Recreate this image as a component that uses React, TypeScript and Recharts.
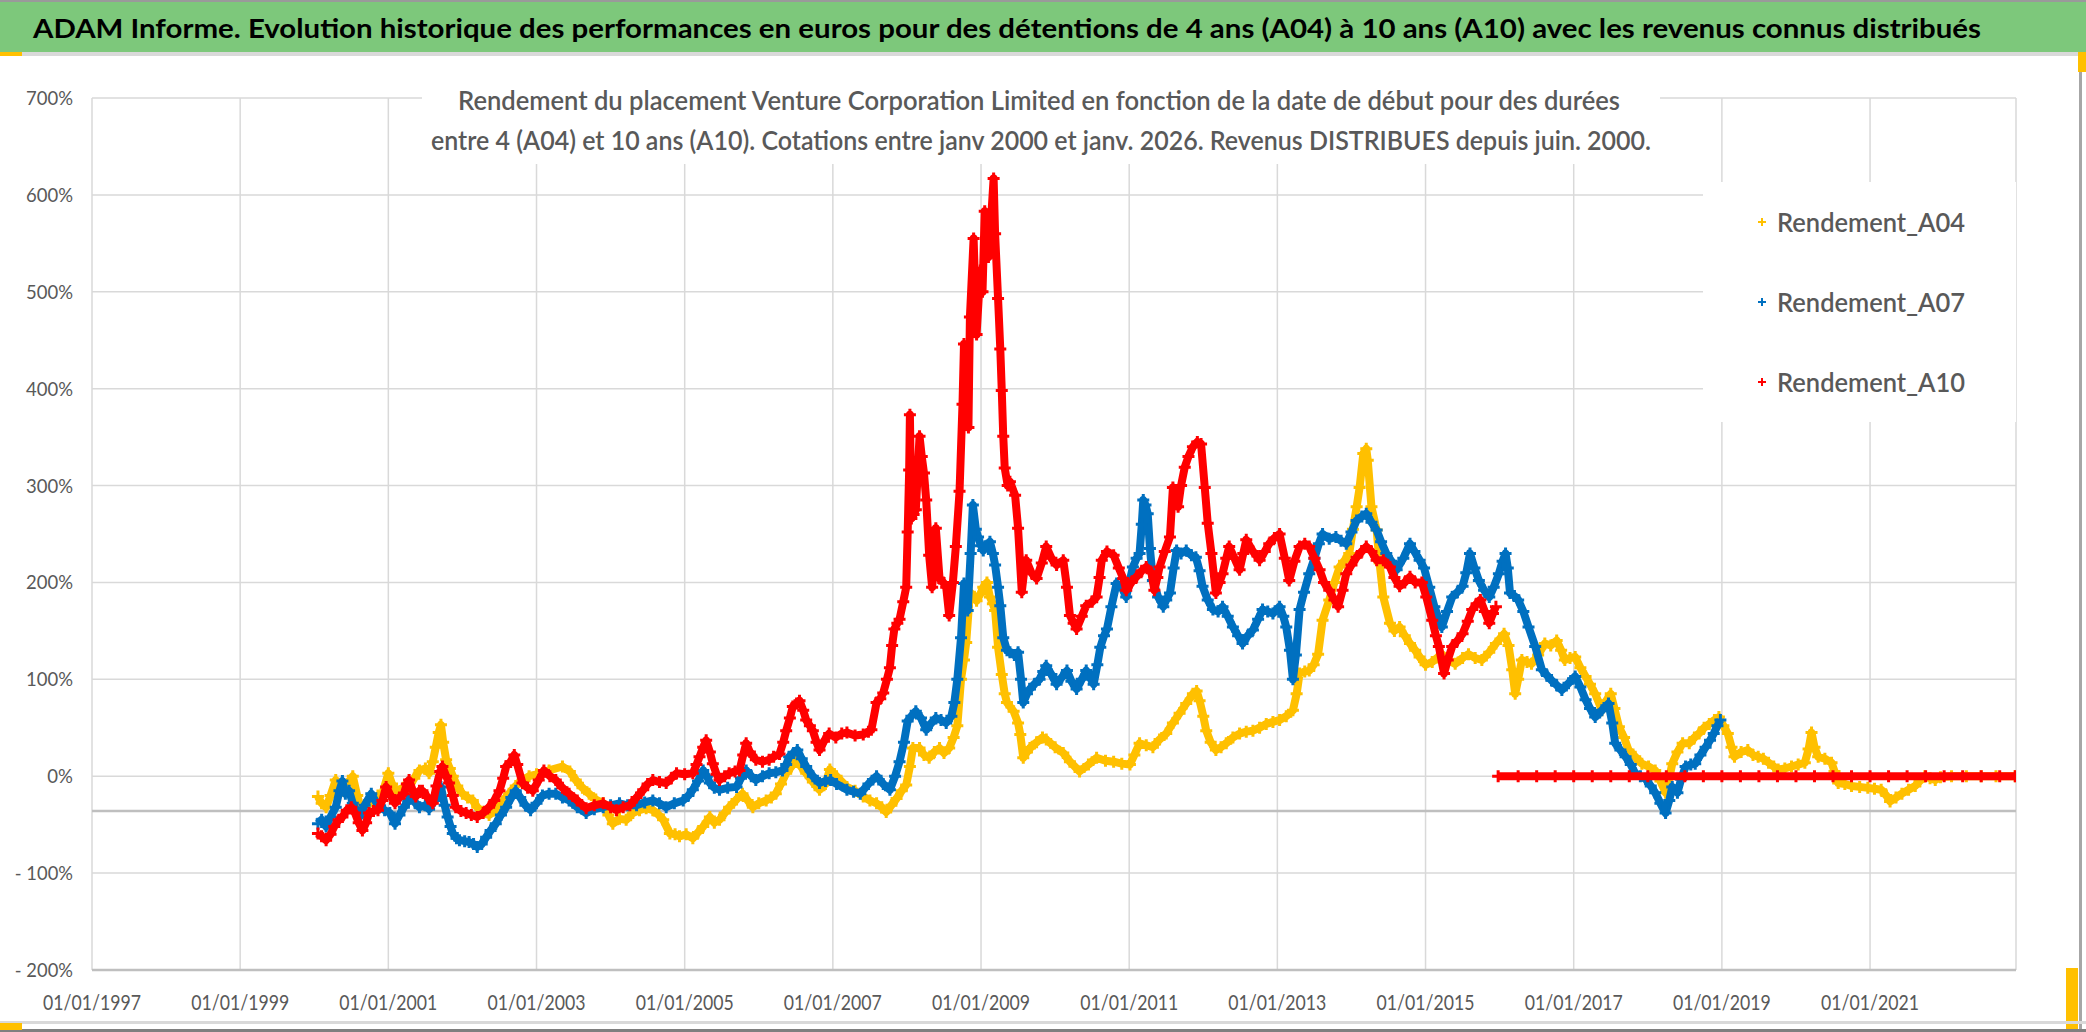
import React from "react";
import {
  CartesianGrid,
  ReferenceLine,
  Scatter,
  ScatterChart,
  XAxis,
  YAxis,
} from "recharts";

// Axis ticks (decimal years on x, percent on y)
const xTicks = [1997, 1999, 2001, 2003, 2005, 2007, 2009, 2011, 2013, 2015, 2017, 2019, 2021];
const yTicks = [-200, -100, 0, 100, 200, 300, 400, 500, 600, 700];
const xDomain: [number, number] = [1997, 2022.97];

const seriesNames = ["Rendement_A04", "Rendement_A07", "Rendement_A10"];
const seriesColors = ["#FFC000", "#0070C0", "#FF0000"];

// [year, rendement %]
const rendementA04: [number, number][] = [
  [2000.05, -21], [2000.1, -28], [2000.16, -32], [2000.22, -20], [2000.29, -4], [2000.33, -12],
  [2000.38, -15], [2000.45, -8], [2000.52, 0], [2000.58, -20], [2000.65, -38], [2000.72, -30],
  [2000.79, -25], [2000.86, -20], [2000.92, -18], [2001.0, 3], [2001.05, -8], [2001.1, -15],
  [2001.2, -12], [2001.28, -11], [2001.35, -2], [2001.42, 6], [2001.5, 8], [2001.55, 3],
  [2001.6, 15], [2001.64, 30], [2001.68, 45], [2001.71, 53], [2001.74, 35], [2001.78, 17],
  [2001.83, 8], [2001.87, 0], [2001.93, -10], [2002.0, -18], [2002.07, -22], [2002.14, -25],
  [2002.2, -32], [2002.27, -38], [2002.36, -40], [2002.45, -35], [2002.54, -26], [2002.63, -18],
  [2002.72, -10], [2002.81, -4], [2002.9, 0], [2003.0, 2], [2003.17, 6], [2003.35, 10],
  [2003.45, 5], [2003.53, -4], [2003.62, -12], [2003.71, -18], [2003.8, -24], [2003.9, -28],
  [2003.97, -40], [2004.03, -49], [2004.12, -44], [2004.21, -45], [2004.3, -38], [2004.39, -35],
  [2004.48, -33], [2004.57, -35], [2004.65, -40], [2004.71, -45], [2004.8, -59], [2004.87, -60],
  [2004.93, -62], [2005.02, -60], [2005.11, -64], [2005.18, -58], [2005.25, -52], [2005.34, -42],
  [2005.4, -48], [2005.47, -45], [2005.54, -38], [2005.6, -32], [2005.7, -24], [2005.78, -18],
  [2005.85, -25], [2005.92, -32], [2006.0, -28], [2006.1, -25], [2006.17, -22], [2006.23, -18],
  [2006.3, -8], [2006.37, 3], [2006.44, 10], [2006.5, 17], [2006.57, 10], [2006.64, 3],
  [2006.73, -6], [2006.82, -14], [2006.9, -8], [2006.96, 7], [2007.05, 0], [2007.19, -11],
  [2007.3, -15], [2007.41, -21], [2007.5, -25], [2007.59, -28], [2007.66, -32], [2007.72, -37],
  [2007.79, -30], [2007.86, -23], [2007.93, -15], [2007.99, -9], [2008.04, 10], [2008.08, 29],
  [2008.17, 29], [2008.23, 22], [2008.3, 19], [2008.37, 25], [2008.44, 29], [2008.5, 24],
  [2008.57, 29], [2008.63, 40], [2008.68, 52], [2008.73, 100], [2008.77, 120], [2008.8, 138],
  [2008.85, 190], [2008.9, 185], [2008.94, 181], [2008.99, 188], [2009.03, 195], [2009.08, 200],
  [2009.12, 185], [2009.16, 178], [2009.19, 171], [2009.23, 133], [2009.28, 105], [2009.32, 85],
  [2009.35, 76], [2009.44, 67], [2009.5, 55], [2009.53, 43], [2009.57, 19], [2009.62, 25],
  [2009.66, 29], [2009.75, 35], [2009.83, 40], [2009.88, 38], [2010.0, 30], [2010.11, 24],
  [2010.2, 15], [2010.33, 5], [2010.45, 12], [2010.56, 19], [2010.68, 16], [2010.79, 15],
  [2010.9, 13], [2011.01, 12], [2011.07, 22], [2011.14, 34], [2011.23, 32], [2011.32, 30],
  [2011.41, 38], [2011.5, 44], [2011.59, 55], [2011.68, 65], [2011.77, 75], [2011.86, 85],
  [2011.91, 88], [2011.95, 78], [2012.0, 62], [2012.04, 47], [2012.1, 35], [2012.17, 27],
  [2012.24, 30], [2012.31, 34], [2012.4, 40], [2012.49, 44], [2012.58, 46], [2012.67, 47],
  [2012.76, 50], [2012.85, 54], [2012.94, 56], [2013.03, 58], [2013.12, 62], [2013.21, 68],
  [2013.26, 85], [2013.3, 106], [2013.37, 108], [2013.43, 109], [2013.49, 115], [2013.55, 126],
  [2013.61, 161], [2013.7, 182], [2013.77, 200], [2013.84, 216], [2013.9, 222], [2013.97, 230],
  [2014.02, 255], [2014.07, 278], [2014.11, 298], [2014.16, 333], [2014.2, 338], [2014.22, 326],
  [2014.27, 278], [2014.34, 254], [2014.38, 220], [2014.43, 185], [2014.52, 158], [2014.58, 150],
  [2014.65, 154], [2014.72, 145], [2014.79, 137], [2014.86, 130], [2014.92, 123], [2015.0, 115],
  [2015.09, 118], [2015.22, 126], [2015.3, 120], [2015.4, 116], [2015.5, 122], [2015.58, 126],
  [2015.67, 122], [2015.76, 120], [2015.86, 128], [2015.95, 137], [2016.06, 147], [2016.12, 135],
  [2016.17, 110], [2016.21, 85], [2016.25, 100], [2016.3, 120], [2016.37, 118], [2016.43, 116],
  [2016.52, 125], [2016.61, 137], [2016.69, 135], [2016.77, 140], [2016.83, 130], [2016.88, 120],
  [2016.95, 122], [2017.02, 123], [2017.09, 112], [2017.16, 103], [2017.22, 95], [2017.29, 85],
  [2017.38, 68], [2017.44, 78], [2017.5, 85], [2017.55, 70], [2017.61, 51], [2017.68, 40],
  [2017.74, 27], [2017.83, 20], [2017.92, 13], [2018.01, 10], [2018.1, 6], [2018.17, -5],
  [2018.24, -17], [2018.29, -2], [2018.33, 13], [2018.4, 25], [2018.47, 34], [2018.56, 34],
  [2018.63, 40], [2018.69, 44], [2018.76, 50], [2018.83, 54], [2018.9, 58], [2018.96, 61],
  [2019.02, 52], [2019.08, 44], [2019.13, 30], [2019.17, 20], [2019.26, 25], [2019.35, 27],
  [2019.42, 22], [2019.49, 20], [2019.56, 18], [2019.63, 14], [2019.7, 10], [2019.76, 7],
  [2019.85, 8], [2019.94, 10], [2020.03, 12], [2020.12, 14], [2020.17, 28], [2020.21, 45],
  [2020.25, 30], [2020.3, 20], [2020.39, 18], [2020.48, 14], [2020.52, 5], [2020.57, -7],
  [2020.66, -8], [2020.75, -10], [2020.86, -11], [2020.97, -12], [2021.06, -13], [2021.15, -14],
  [2021.22, -20], [2021.27, -26], [2021.35, -22], [2021.43, -18], [2021.52, -14], [2021.61, -10],
  [2021.67, -5], [2021.74, 0], [2021.81, -2], [2021.88, -4], [2021.95, -1], [2022.1, 0],
  [2022.3, 0], [2022.5, 0], [2022.7, 0], [2022.96, 0],
];

const rendementA07: [number, number][] = [
  [2000.05, -49], [2000.1, -45], [2000.16, -52], [2000.22, -42], [2000.29, -32], [2000.34, -15],
  [2000.38, -5], [2000.42, -18], [2000.47, -15], [2000.52, -28], [2000.61, -42], [2000.68, -30],
  [2000.77, -18], [2000.82, -25], [2000.88, -32], [2000.95, -35], [2001.02, -38], [2001.09, -49],
  [2001.15, -40], [2001.21, -32], [2001.27, -25], [2001.32, -21], [2001.37, -28], [2001.42, -32],
  [2001.5, -30], [2001.55, -34], [2001.62, -25], [2001.67, -18], [2001.71, -11], [2001.76, -30],
  [2001.8, -42], [2001.84, -52], [2001.87, -59], [2001.92, -64], [2001.96, -66], [2002.03, -67],
  [2002.09, -68], [2002.15, -70], [2002.2, -73], [2002.26, -70], [2002.32, -63], [2002.38, -56],
  [2002.45, -49], [2002.52, -40], [2002.59, -32], [2002.66, -22], [2002.72, -15], [2002.78, -22],
  [2002.85, -30], [2002.92, -35], [2003.0, -28], [2003.08, -20], [2003.17, -18], [2003.26, -18],
  [2003.35, -22], [2003.44, -25], [2003.55, -32], [2003.67, -38], [2003.78, -34], [2003.9, -32],
  [2004.0, -30], [2004.12, -28], [2004.23, -30], [2004.35, -30], [2004.46, -27], [2004.57, -25],
  [2004.66, -28], [2004.75, -32], [2004.86, -28], [2004.98, -25], [2005.05, -20], [2005.11, -14],
  [2005.18, -5], [2005.25, 6], [2005.3, 0], [2005.34, -7], [2005.4, -12], [2005.47, -14],
  [2005.58, -12], [2005.7, -11], [2005.76, -2], [2005.83, 6], [2005.9, 0], [2005.96, -4],
  [2006.05, 0], [2006.14, 3], [2006.23, 4], [2006.32, 6], [2006.37, 12], [2006.41, 20],
  [2006.47, 24], [2006.52, 27], [2006.58, 18], [2006.64, 10], [2006.73, 0], [2006.82, -7],
  [2006.9, -5], [2006.97, -4], [2007.05, -8], [2007.19, -14], [2007.28, -16], [2007.37, -18],
  [2007.48, -8], [2007.59, 0], [2007.68, -8], [2007.77, -14], [2007.84, 0], [2007.9, 15],
  [2007.96, 35], [2008.01, 57], [2008.06, 62], [2008.12, 67], [2008.19, 60], [2008.26, 48],
  [2008.33, 55], [2008.39, 60], [2008.46, 58], [2008.53, 55], [2008.6, 62], [2008.64, 76],
  [2008.68, 100], [2008.73, 143], [2008.77, 199], [2008.8, 175], [2008.82, 171], [2008.86, 230],
  [2008.89, 280], [2008.93, 255], [2008.96, 247], [2009.0, 238], [2009.03, 233], [2009.08, 238],
  [2009.12, 242], [2009.16, 230], [2009.19, 218], [2009.23, 195], [2009.26, 176], [2009.3, 143],
  [2009.35, 130], [2009.39, 128], [2009.45, 125], [2009.5, 128], [2009.54, 100], [2009.57, 76],
  [2009.62, 85], [2009.66, 90], [2009.72, 95], [2009.79, 100], [2009.84, 108], [2009.88, 114],
  [2009.95, 105], [2010.02, 95], [2010.09, 102], [2010.16, 109], [2010.22, 98], [2010.29, 90],
  [2010.36, 100], [2010.42, 109], [2010.47, 102], [2010.52, 95], [2010.57, 115], [2010.61, 133],
  [2010.66, 145], [2010.7, 152], [2010.76, 175], [2010.83, 199], [2010.9, 195], [2010.96, 185],
  [2011.05, 216], [2011.1, 225], [2011.14, 230], [2011.17, 260], [2011.19, 285], [2011.22, 280],
  [2011.25, 271], [2011.28, 235], [2011.32, 202], [2011.39, 185], [2011.46, 175], [2011.5, 182],
  [2011.55, 189], [2011.6, 215], [2011.64, 233], [2011.7, 230], [2011.77, 233], [2011.84, 228],
  [2011.9, 226], [2011.95, 212], [2011.99, 196], [2012.06, 182], [2012.13, 172], [2012.2, 170],
  [2012.26, 175], [2012.33, 165], [2012.4, 154], [2012.47, 145], [2012.53, 137], [2012.6, 145],
  [2012.67, 151], [2012.74, 162], [2012.8, 172], [2012.87, 170], [2012.94, 168], [2013.03, 175],
  [2013.08, 165], [2013.12, 154], [2013.17, 130], [2013.21, 100], [2013.25, 125], [2013.3, 172],
  [2013.36, 190], [2013.43, 209], [2013.5, 225], [2013.56, 240], [2013.61, 250], [2013.7, 245],
  [2013.79, 247], [2013.86, 243], [2013.93, 240], [2014.0, 252], [2014.07, 264], [2014.14, 268],
  [2014.2, 271], [2014.27, 262], [2014.34, 254], [2014.4, 242], [2014.47, 230], [2014.54, 222],
  [2014.61, 213], [2014.7, 225], [2014.79, 240], [2014.85, 232], [2014.92, 223], [2014.98, 215],
  [2015.05, 195], [2015.12, 175], [2015.22, 154], [2015.29, 170], [2015.36, 185], [2015.43, 190],
  [2015.5, 196], [2015.55, 210], [2015.6, 230], [2015.66, 215], [2015.72, 202], [2015.79, 192],
  [2015.86, 185], [2015.92, 195], [2015.99, 209], [2016.04, 222], [2016.08, 230], [2016.11, 215],
  [2016.14, 189], [2016.2, 186], [2016.25, 182], [2016.32, 170], [2016.39, 154], [2016.48, 134],
  [2016.57, 110], [2016.64, 104], [2016.7, 99], [2016.77, 94], [2016.84, 89], [2016.93, 96],
  [2017.02, 103], [2017.09, 92], [2017.16, 79], [2017.22, 70], [2017.29, 61], [2017.38, 68],
  [2017.47, 75], [2017.52, 55], [2017.56, 34], [2017.63, 27], [2017.7, 20], [2017.77, 12],
  [2017.83, 3], [2017.9, 0], [2017.97, -3], [2018.04, -10], [2018.1, -17], [2018.17, -28],
  [2018.24, -38], [2018.29, -25], [2018.33, -11], [2018.4, -17], [2018.45, -3], [2018.51, 10],
  [2018.58, 12], [2018.64, 13], [2018.71, 22], [2018.78, 30], [2018.84, 37], [2018.89, 44],
  [2018.94, 52], [2018.98, 58],
];

const rendementA10: [number, number][] = [
  [2000.05, -59], [2000.1, -62], [2000.16, -66], [2000.22, -60], [2000.27, -52], [2000.33, -45],
  [2000.38, -42], [2000.44, -35], [2000.5, -32], [2000.55, -38], [2000.6, -48], [2000.65, -56],
  [2000.7, -48], [2000.74, -38], [2000.8, -36], [2000.86, -35], [2000.92, -25], [2000.97, -11],
  [2001.03, -20], [2001.09, -28], [2001.15, -22], [2001.21, -18], [2001.25, -8], [2001.28, -4],
  [2001.33, -15], [2001.37, -21], [2001.42, -15], [2001.46, -15], [2001.53, -22], [2001.6, -28],
  [2001.65, -10], [2001.7, 5], [2001.73, 10], [2001.78, 0], [2001.82, -7], [2001.87, -20],
  [2001.91, -32], [2001.98, -36], [2002.05, -38], [2002.12, -40], [2002.2, -42], [2002.28, -38],
  [2002.36, -32], [2002.43, -25], [2002.5, -15], [2002.55, -2], [2002.59, 10], [2002.65, 15],
  [2002.7, 22], [2002.74, 12], [2002.81, -7], [2002.88, -12], [2002.95, -15], [2003.03, -4],
  [2003.1, 6], [2003.18, 0], [2003.26, -4], [2003.35, -12], [2003.44, -18], [2003.55, -25],
  [2003.67, -33], [2003.78, -30], [2003.9, -28], [2004.0, -32], [2004.08, -35], [2004.17, -32],
  [2004.26, -30], [2004.35, -22], [2004.44, -14], [2004.5, -8], [2004.57, -4], [2004.66, -6],
  [2004.75, -7], [2004.82, -2], [2004.89, 3], [2005.0, 2], [2005.11, 3], [2005.16, 12],
  [2005.2, 20], [2005.25, 30], [2005.29, 37], [2005.34, 25], [2005.38, 13], [2005.43, 2],
  [2005.47, -4], [2005.54, 0], [2005.6, 3], [2005.68, 5], [2005.74, 6], [2005.79, 22],
  [2005.83, 34], [2005.88, 25], [2005.96, 17], [2006.05, 15], [2006.14, 17], [2006.2, 20],
  [2006.28, 23], [2006.33, 35], [2006.37, 47], [2006.42, 60], [2006.46, 72], [2006.51, 75],
  [2006.55, 78], [2006.6, 68], [2006.64, 58], [2006.69, 52], [2006.73, 47], [2006.78, 35],
  [2006.82, 27], [2006.88, 36], [2006.95, 44], [2007.04, 40], [2007.12, 44], [2007.19, 45],
  [2007.3, 42], [2007.41, 43], [2007.48, 46], [2007.52, 48], [2007.59, 76], [2007.64, 80],
  [2007.68, 86], [2007.73, 100], [2007.77, 112], [2007.8, 135], [2007.83, 152], [2007.87, 158],
  [2007.9, 162], [2007.95, 180], [2007.99, 195], [2008.01, 252], [2008.03, 316], [2008.04, 373],
  [2008.06, 266], [2008.09, 270], [2008.12, 275], [2008.17, 351], [2008.2, 330], [2008.23, 313],
  [2008.26, 285], [2008.3, 228], [2008.34, 195], [2008.37, 225], [2008.39, 256], [2008.44, 204],
  [2008.49, 200], [2008.53, 195], [2008.57, 166], [2008.62, 200], [2008.66, 237], [2008.71, 294],
  [2008.75, 384], [2008.77, 446], [2008.8, 400], [2008.83, 360], [2008.85, 474], [2008.9, 555],
  [2008.94, 456], [2008.99, 522], [2009.02, 500], [2009.05, 583], [2009.1, 536], [2009.14, 580],
  [2009.17, 617], [2009.19, 560], [2009.23, 493], [2009.26, 441], [2009.28, 398], [2009.3, 351],
  [2009.32, 318], [2009.36, 300], [2009.39, 304], [2009.46, 290], [2009.5, 256], [2009.55, 190],
  [2009.58, 210], [2009.61, 223], [2009.68, 210], [2009.75, 204], [2009.82, 220], [2009.88, 237],
  [2009.95, 225], [2010.02, 218], [2010.11, 223], [2010.16, 195], [2010.2, 166], [2010.25, 158],
  [2010.29, 152], [2010.36, 165], [2010.42, 176], [2010.5, 180], [2010.56, 185], [2010.6, 205],
  [2010.63, 223], [2010.7, 232], [2010.79, 228], [2010.86, 215], [2010.92, 204], [2010.96, 192],
  [2011.03, 200], [2011.1, 206], [2011.17, 212], [2011.23, 216], [2011.3, 210], [2011.34, 192],
  [2011.38, 205], [2011.41, 216], [2011.48, 232], [2011.55, 247], [2011.59, 298], [2011.63, 285],
  [2011.66, 278], [2011.7, 300], [2011.75, 319], [2011.8, 330], [2011.86, 340], [2011.92, 345],
  [2011.97, 343], [2012.02, 298], [2012.06, 261], [2012.11, 230], [2012.17, 189], [2012.22, 200],
  [2012.26, 209], [2012.31, 225], [2012.35, 237], [2012.42, 225], [2012.49, 213], [2012.54, 230],
  [2012.58, 244], [2012.67, 232], [2012.76, 223], [2012.83, 232], [2012.89, 240], [2012.96, 246],
  [2013.03, 250], [2013.1, 225], [2013.16, 202], [2013.23, 222], [2013.3, 237], [2013.37, 240],
  [2013.43, 237], [2013.5, 225], [2013.57, 213], [2013.63, 200], [2013.7, 192], [2013.77, 182],
  [2013.82, 175], [2013.88, 192], [2013.93, 209], [2014.0, 218], [2014.07, 226], [2014.14, 232],
  [2014.2, 237], [2014.27, 232], [2014.34, 223], [2014.43, 223], [2014.52, 216], [2014.58, 205],
  [2014.65, 196], [2014.72, 200], [2014.79, 206], [2014.86, 200], [2014.95, 200], [2015.01, 185],
  [2015.09, 161], [2015.14, 145], [2015.18, 134], [2015.25, 106], [2015.3, 120], [2015.36, 134],
  [2015.43, 140], [2015.5, 147], [2015.57, 160], [2015.63, 172], [2015.69, 178], [2015.74, 182],
  [2015.8, 170], [2015.86, 158], [2015.91, 168], [2015.95, 175],
];

// A10 has no 10-year horizon after 2016: plotted flat at 0 %
const rendementA10Tail: [number, number][] = [
  [2015.98, 0], [2016.25, 0], [2016.5, 0], [2016.75, 0], [2017.0, 0], [2017.25, 0], [2017.5, 0],
  [2017.75, 0], [2018.0, 0], [2018.25, 0], [2018.5, 0], [2018.75, 0], [2019.0, 0], [2019.25, 0],
  [2019.5, 0], [2019.75, 0], [2020.0, 0], [2020.25, 0], [2020.5, 0], [2020.75, 0], [2021.0, 0],
  [2021.25, 0], [2021.5, 0], [2021.75, 0], [2022.0, 0], [2022.25, 0], [2022.5, 0], [2022.75, 0],
  [2022.96, 0],
];

const W = 2086;
const H = 1032;
const FONT = "Lato, 'Open Sans', sans-serif";
const GREY_TEXT = "#595959";

const toPoints = (rows: [number, number][]) => rows.map(([x, y]) => ({ x, y }));

// rough Calibri advance widths (em) so labels keep the original widths
const calibri: Record<string, number> = { "0": 0.507, "/": 0.386, "%": 0.715, "-": 0.306, " ": 0.226 };
const labelWidth = (s: string, size: number) =>
  s.split("").reduce((w, c) => w + (calibri[c] ?? 0.507), 0) * size;

const fmtY = (v: number) => (v < 0 ? `- ${-v}%` : `${v}%`);
const fmtX = (v: number) => `01/01/${v}`;

function XTick(props: any) {
  const { x, y, payload } = props;
  const label = fmtX(payload.value);
  return (
    <text x={x} y={y + 40} textAnchor="middle" fontSize={21} fontFamily={FONT} fill={GREY_TEXT}
      textLength={labelWidth(label, 20.3)} lengthAdjust="spacingAndGlyphs">
      {label}
    </text>
  );
}

function YTick(props: any) {
  const { x, y, payload } = props;
  const label = fmtY(payload.value);
  return (
    <text x={x} y={y + 7} textAnchor="end" fontSize={19} fontFamily={FONT} fill={GREY_TEXT}
      textLength={labelWidth(label, 21)} lengthAdjust="spacingAndGlyphs">
      {label}
    </text>
  );
}

const plusMarker = (color: string, half = 6, width = 3) => (props: any) => {
  const { cx, cy } = props;
  if (cx == null || cy == null) return <g />;
  return (
    <path d={`M${cx - half},${cy}h${half * 2}M${cx},${cy - half}v${half * 2}`}
      stroke={color} strokeWidth={width} fill="none" />
  );
};

export default function App() {
  const series = [
    { key: "a04", rows: rendementA04, color: seriesColors[0] },
    { key: "a07", rows: rendementA07, color: seriesColors[1] },
    { key: "a10", rows: rendementA10, color: seriesColors[2] },
    { key: "a10tail", rows: rendementA10Tail, color: seriesColors[2] },
  ];

  return (
    <div style={{ position: "relative", width: W, height: H, background: "#fff", overflow: "hidden" }}>
      <style>{`body{margin:0}`}</style>

      <ScatterChart width={W} height={H} margin={{ top: 98, right: 70, bottom: 12, left: 12 }}>
        <CartesianGrid stroke="#D9D9D9" strokeWidth={1.5} />
        <XAxis dataKey="x" type="number" domain={xDomain} ticks={xTicks} interval={0}
          allowDataOverflow axisLine={false} tickLine={false} tickSize={0} tickMargin={0}
          height={50} tick={<XTick />} />
        <YAxis dataKey="y" type="number" domain={[-200, 700]} ticks={yTicks} interval={0}
          allowDataOverflow axisLine={false} tickLine={false} tickSize={0} tickMargin={19}
          width={80} tick={<YTick />} />
        <ReferenceLine y={-200} stroke="#BFBFBF" strokeWidth={2.5} />
        <ReferenceLine y={-36} stroke="#BFBFBF" strokeWidth={2.5} />
        {series.map((s) => (
          <Scatter key={s.key} data={toPoints(s.rows)} fill={s.color} stroke={s.color}
            line={{ stroke: s.color, strokeWidth: 8, strokeLinejoin: "round" }}
            shape={plusMarker(s.color)} isAnimationActive={false} />
        ))}
      </ScatterChart>

      <svg width={W} height={H} style={{ position: "absolute", left: 0, top: 0, pointerEvents: "none" }}>
        {/* title band */}
        <rect x={0} y={0} width={W} height={52} fill="#7DC87B" />
        <rect x={0} y={0} width={W} height={2} fill="#9A9A9A" />
        <rect x={0} y={52} width={W} height={4} fill="#D9D9D9" />
        <rect x={0} y={52} width={22} height={4} fill="#FFC000" />
        <text x={33} y={38} fontSize={27} fontWeight="bold" fontFamily={FONT} fill="#000"
          textLength={1948} lengthAdjust="spacingAndGlyphs">
          ADAM Informe. Evolution historique des performances en euros pour des détentions de 4 ans (A04) à 10 ans (A10) avec les revenus connus distribués
        </text>

        {/* chart title block */}
        <rect x={422} y={70} width={1238} height={94} fill="#fff" />
        <text x={458} y={110} fontSize={26} fontWeight={600} fontFamily={FONT} fill={GREY_TEXT}
          textLength={1162} lengthAdjust="spacingAndGlyphs">
          Rendement du placement Venture Corporation Limited en fonction de la date de début pour des durées
        </text>
        <text x={431} y={150} fontSize={26} fontWeight={600} fontFamily={FONT} fill={GREY_TEXT}
          textLength={1220} lengthAdjust="spacingAndGlyphs">
          entre 4 (A04) et 10 ans (A10). Cotations entre janv 2000 et janv. 2026. Revenus DISTRIBUES depuis juin. 2000.
        </text>

        {/* legend */}
        <rect x={1703} y={182} width={313} height={240} fill="#fff" />
        {seriesNames.map((name, i) => {
          const cy = 222 + i * 80;
          return (
            <g key={name}>
              <path d={`M1758,${cy}h8M1762,${cy - 4}v8`} stroke={seriesColors[i]} strokeWidth={2} />
              <text x={1777} y={cy + 10} fontSize={27} fontWeight={600} fontFamily={FONT} fill={GREY_TEXT}
                textLength={188} lengthAdjust="spacingAndGlyphs">
                {name}
              </text>
            </g>
          );
        })}

        {/* frame */}
        <rect x={2079} y={56} width={3} height={H - 56} fill="#A6A6A6" />
        <rect x={2078} y={52} width={8} height={20} fill="#FFC000" />
        <rect x={2066} y={968} width={12} height={62} fill="#FFC000" />
        <rect x={0} y={1021} width={W} height={3} fill="#D9D9D9" />
        <rect x={0} y={1029} width={W} height={3} fill="#7F7F7F" />
        <rect x={0} y={1023} width={22} height={7} fill="#FFC000" />
      </svg>
    </div>
  );
}
